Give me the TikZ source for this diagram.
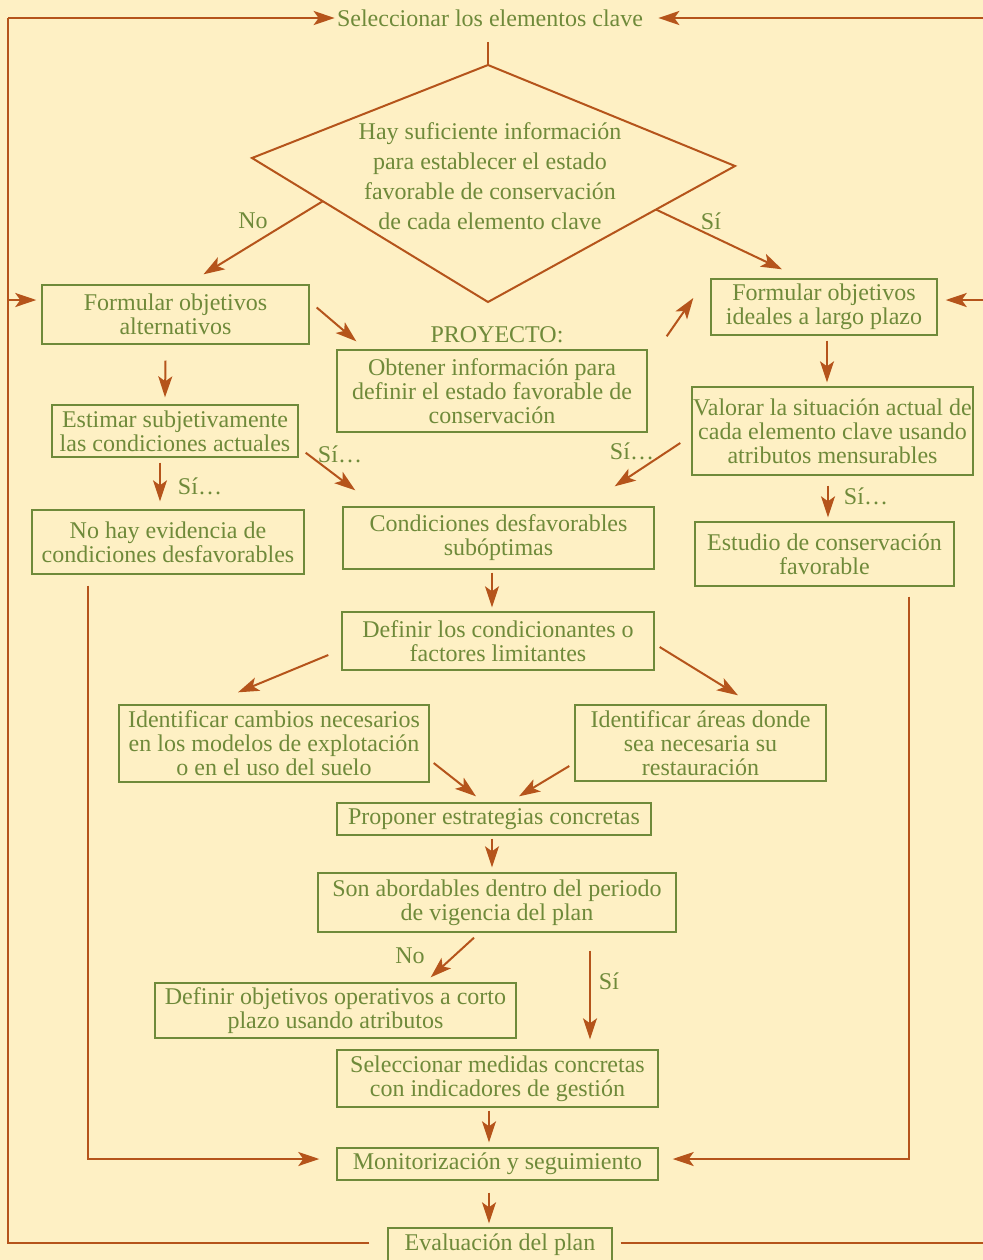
\documentclass[tikz,border=0pt]{standalone}
\usepackage{fontspec}
\setmainfont{Liberation Serif}
\usetikzlibrary{arrows.meta,calc}
\definecolor{fondo}{HTML}{FEF0C4}
\definecolor{verde}{HTML}{6F8A3A}
\definecolor{teja}{HTML}{B5541B}

\begin{document}
\begin{tikzpicture}[x=0.5pt,y=-0.5pt,
    caja/.style 2 args={draw=verde, line width=0.7pt, text=verde, align=center, inner sep=0pt,
      minimum width=#1*0.5pt, minimum height=#2*0.5pt, font=\fontsize{12}{12}\selectfont},
    txt/.style={text=verde, align=center, inner sep=0pt, font=\fontsize{12}{12}\selectfont},
    flecha/.style={draw=teja, line width=1pt, -{Stealth[length=10.5pt,width=7pt,inset=2.5pt]}},
    bucle/.style={draw=teja, line width=1.3pt}
  ]
  \fill[fondo] (0,0) rectangle (983,1260);
  \useasboundingbox (0,0) rectangle (983,1260);

  \node[txt] (sel) at (490,18) {Seleccionar los elementos clave};
  \coordinate (dt) at (488,65);
  \coordinate (dl) at (252,158);
  \coordinate (dr) at (735,166);
  \coordinate (db) at (488,302);
  \draw[teja, line width=1pt] (dt) -- (dr) -- (db) -- (dl) -- cycle;
  \draw[teja, line width=1pt] ([shift={(-2,15)}]sel.south) -- (dt);
  \node[txt, font=\fontsize{12}{15}\selectfont] (dq) at (490,176)
    {Hay suficiente información\\para establecer el estado\\favorable de conservación\\de cada elemento clave};

  \node[caja={267}{59}] (alt) at (175.5,314.5) {Formular objetivos\\alternativos};
  \node[caja={226}{56}] (ideal) at (824,307) {Formular objetivos\\ideales a largo plazo};
  \node[txt] (proy) at (497,335) {PROYECTO:};
  \node[caja={310}{82}] (obt) at (492,391) {Obtener información para\\definir el estado favorable de\\conservación};
  \node[caja={246}{52}] (est) at (175,431) {Estimar subjetivamente\\las condiciones actuales};
  \node[caja={272}{64}] (nohay) at (168,542) {No hay evidencia de\\condiciones desfavorables};
  \node[caja={281}{88}] (val) at (832.5,431) {Valorar la situación actual de\\cada elemento clave usando\\atributos mensurables};
  \node[caja={259}{64}] (estu) at (824.5,554) {Estudio de conservación\\favorable};
  \node[caja={311}{62}] (cond) at (498.5,538) {Condiciones desfavorables\\subóptimas};
  \node[caja={312}{58}] (def) at (498,641) {Definir los condicionantes o\\factores limitantes};
  \node[caja={310}{77}] (camb) at (274,743.5) {Identificar cambios necesarios\\en los modelos de explotación\\o en el uso del suelo};
  \node[caja={251}{76}] (areas) at (700.5,743) {Identificar áreas donde\\sea necesaria su\\restauración};
  \node[caja={314}{32}] (prop) at (494,819) {Proponer estrategias concretas};
  \node[caja={358}{59}] (son) at (497,902.5) {Son abordables dentro del periodo\\de vigencia del plan};
  \node[caja={361}{55}] (obj) at (335.5,1010.5) {Definir objetivos operativos a corto\\plazo usando atributos};
  \node[caja={321}{57}] (med) at (497.5,1078.5) {Seleccionar medidas concretas\\con indicadores de gestión};
  \node[caja={321}{32}] (mon) at (497.5,1164) {Monitorización y seguimiento};
  \node[caja={224}{34}] (eva) at (500,1245) {Evaluación del plan};

  \node[txt] (lno1) at (253,221) {No};
  \node[txt] (lsi1) at (711,221) {Sí};
  \node[txt] (lsi2) at (200,486) {Sí\ldots};
  \node[txt] (lsi3) at (340,454) {Sí\ldots};
  \node[txt] (lsi4) at (632,451) {Sí\ldots};
  \node[txt] (lsi5) at (866,496) {Sí\ldots};
  \node[txt] (lno2) at (410,956) {No};
  \node[txt] (lsi6) at (609,981) {Sí};

  \draw[flecha] ($(dl)!0.3!(db)$) -- ([shift={(28,-10)}]alt.north);
  \draw[flecha] ($(dr)!0.32!(db)$) -- ([shift={(-42,-9)}]ideal.north);
  \draw[flecha] ([shift={(7,-7)}]alt.east) -- ([shift={(20,-8)}]obt.north west);
  \draw[flecha] ([shift={(19,-13)}]obt.north east) -- ([shift={(-17,-9)}]ideal.west);
  \draw[flecha] ([shift={(-10,16)}]alt.south) -- ([shift={(-10,-7)}]est.north);
  \draw[flecha] ([shift={(-15,5)}]est.south) -- ([shift={(-8,-8)}]nohay.north);
  \draw[flecha] ([shift={(7,-5)}]est.south east) -- ([shift={(13,-16)}]cond.north west);
  \draw[flecha] ([shift={(3,5)}]ideal.south) -- ([shift={(-5.5,-4)}]val.north);
  \draw[flecha] ([shift={(-11,12)}]val.west) -- ([shift={(-40,-20)}]cond.north east);
  \draw[flecha] ([shift={(-4.5,10)}]val.south) -- ([shift={(3.5,-4)}]estu.north);
  \draw[flecha] ([shift={(-6.5,3)}]cond.south) -- ([shift={(-6,-4)}]def.north);
  \draw[flecha] ([shift={(-13,14)}]def.west) -- ([shift={(-36,-12)}]camb.north);
  \draw[flecha] ([shift={(5,6)}]def.east) -- ([shift={(37.5,-9)}]areas.north);
  \draw[flecha] ([shift={(4,19.5)}]camb.east) -- ([shift={(-18,-6)}]prop.north);
  \draw[flecha] ([shift={(-5,23)}]areas.west) -- ([shift={(25,-6)}]prop.north);
  \draw[flecha] ([shift={(-2,3)}]prop.south) -- ([shift={(-5,-5)}]son.north);
  \draw[flecha] ([shift={(-23,5)}]son.south) -- ([shift={(-86,-5)}]obj.north east);
  \draw[flecha] ([shift={(93,18)}]son.south) -- ([shift={(92.5,-10)}]med.north);
  \draw[flecha] ([shift={(-8.5,3)}]med.south) -- ([shift={(-8.5,-5)}]mon.north);
  \draw[flecha] ([shift={(-8.5,12)}]mon.south) -- ([shift={(-11,-4)}]eva.north);
  \draw[flecha] ([shift={(-80,11)}]nohay.south) |- ([shift={(-17,-5)}]mon.west);
  \draw[flecha] ([shift={(84.5,10)}]estu.south) |- ([shift={(14,-5)}]mon.east);

  \coordinate (izb) at (8,1243);
  \coordinate (izt) at (8,18);
  \coordinate (izm) at (8,300);
  \coordinate (deb) at (992,1243);
  \coordinate (det) at (992,18);
  \coordinate (dem) at (992,300);
  \draw[bucle] ([shift={(-18,-2)}]eva.west) -- (izb) -- (izt);
  \draw[bucle] ([shift={(8,-2)}]eva.east) -- (deb) -- (det);
  \draw[bucle, flecha, line width=1.3pt] (izt) -- ([shift={(-2,0)}]sel.west);
  \draw[bucle, flecha, line width=1.3pt] (det) -- ([shift={(15,0)}]sel.east);
  \draw[bucle, flecha, line width=1.3pt] (izm) -- ([shift={(-5,-14.5)}]alt.west);
  \draw[bucle, flecha, line width=1.3pt] (dem) -- ([shift={(8,-7)}]ideal.east);
\end{tikzpicture}
\end{document}
